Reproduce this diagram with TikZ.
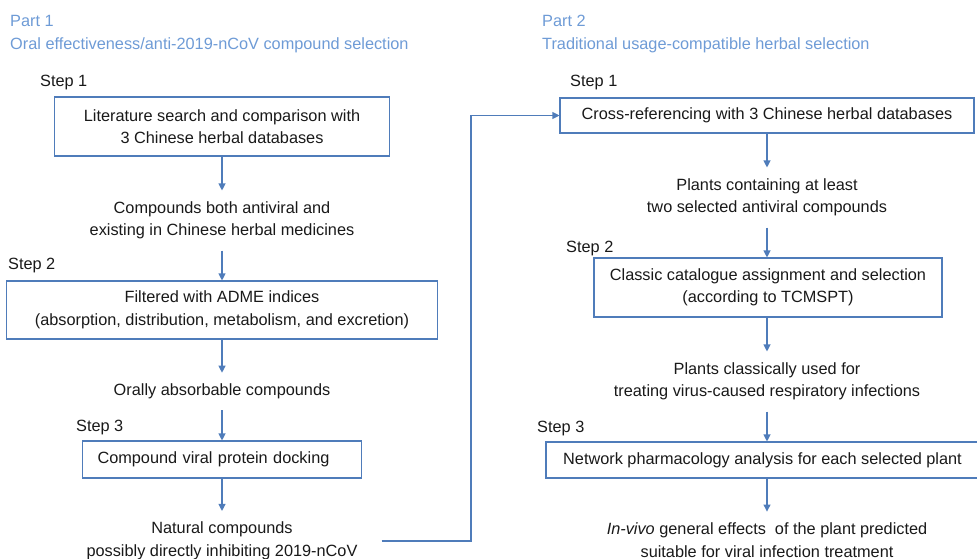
\documentclass[tikz,border=0pt]{standalone}
\usepackage{fontspec}
\setmainfont{Liberation Sans}
\usetikzlibrary{arrows.meta,calc}
\definecolor{lineblue}{RGB}{79,124,186}
\definecolor{titleblue}{RGB}{110,155,214}
\definecolor{ink}{RGB}{25,25,25}
\begin{document}
\begin{tikzpicture}[x=1pt,y=-1pt,
  every node/.style={font=\fontsize{16.3}{22.5}\selectfont, text=ink},
  box/.style={draw=lineblue, line width=1.1pt, inner sep=0pt, align=center},
  txt/.style={align=center, inner xsep=0pt, inner ysep=11pt},
  lbl/.style={anchor=west, inner sep=0pt},
  title/.style={anchor=west, inner sep=0pt, text=titleblue},
  arr/.style={draw=lineblue, line width=1.1pt, -{Triangle[width=7pt,length=7pt]}}
]
\useasboundingbox (0,0) rectangle (977,559);

% titles
\node[title] (p1) at (10,21) {Part 1};
\node[title] (p1t) at (10,45.5) {Oral effectiveness/anti-2019-nCoV compound selection};
\node[title] (p2) at (542,21) {Part 2};
\node[title] (p2t) at (542,45.5) {Traditional usage-compatible herbal selection};

% left column
\node[lbl] (s11) at (40,83) {Step 1};
\node[box, minimum width=335pt, minimum height=59pt] (b1) at (222,126.5) {Literature search and comparison with\\3 Chinese herbal databases};
\node[txt] (t1) at (222,220.5) {Compounds both antiviral and\\existing in Chinese herbal medicines};
\node[lbl] (s12) at (8,265) {Step 2};
\node[box, minimum width=431pt, minimum height=58pt] (b2) at (222,310) {Filtered with ADME indices\\(absorption, distribution, metabolism, and excretion)};
\node[txt] (t2) at (222,391.5) {Orally absorbable compounds};
\node[lbl] (s13) at (76,427) {Step 3};
\node[box, minimum width=279pt, minimum height=37pt, text width=249pt, align=left] (b3) at (222,459.5) {Compound viral protein docking};
\node[txt] (t3) at (222,541) {Natural compounds\\possibly directly inhibiting 2019-nCoV};

% right column
\node[lbl] (s21) at (570,83) {Step 1};
\node[box, minimum width=414pt, minimum height=35pt] (b4) at (767,115.5) {Cross-referencing with 3 Chinese herbal databases};
\node[txt] (t4) at (767,197.5) {Plants containing at least\\two selected antiviral compounds};
\node[lbl] (s22) at (566,248) {Step 2};
\node[box, minimum width=348pt, minimum height=59pt] (b5) at (768,287.5) {Classic catalogue assignment and selection\\(according to TCMSPT)};
\node[txt] (t5) at (767,381.5) {Plants classically used for\\treating virus-caused respiratory infections};
\node[lbl] (s23) at (537,428) {Step 3};
\node[box, minimum width=433pt, minimum height=36pt] (b6) at (762.5,460) {Network pharmacology analysis for each selected plant};
\node[txt] (t6) at (767,540) {\textit{In-vivo} general effects\ \ of the plant predicted\\suitable for viral infection treatment};

% connectors left
\draw[arr] (b1.south) -- (t1.north);
\draw[arr] (t1.south) -- (b2.north);
\draw[arr] (b2.south) -- (t2.north);
\draw[arr] (t2.south) -- (b3.north);
\draw[arr] (b3.south) -- (t3.north);

% cross connector
\coordinate (turn) at (471,115.5);
\draw[arr] ([xshift=24pt]t3.east) -| (turn) -- (b4.west);

% connectors right
\draw[arr] (b4.south) -- (t4.north);
\draw[arr] (t4.south) -- (t4.south |- b5.north);
\draw[arr] (t5.north |- b5.south) -- (t5.north);
\draw[arr] (t5.south) -- (t5.south |- b6.north);
\draw[arr] (t6.north |- b6.south) -- (t6.north);
\end{tikzpicture}
\end{document}
